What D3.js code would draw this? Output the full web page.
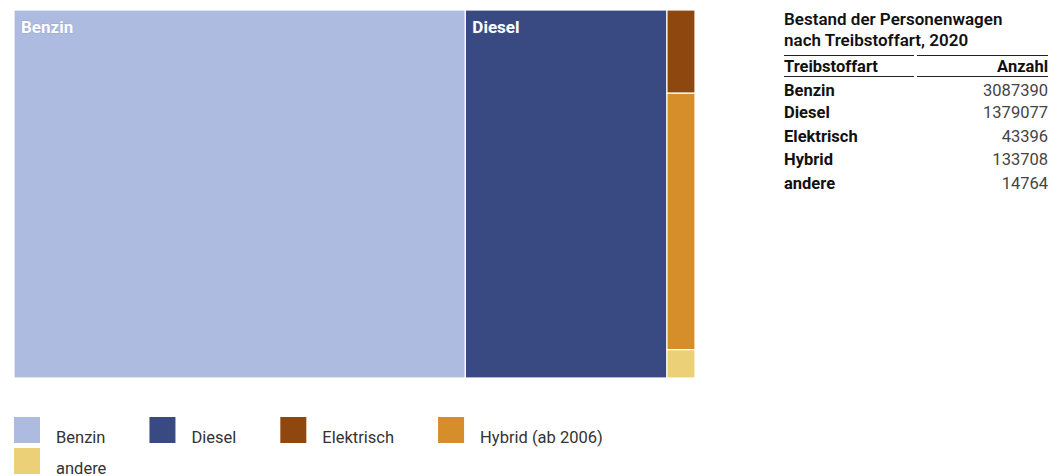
<!DOCTYPE html>
<html><head><meta charset="utf-8">
<script src="https://cdn.jsdelivr.net/npm/d3@7"></script>
<style>
html,body{margin:0;padding:0;background:#fff;}
svg{display:block;font-family:Roboto, "Noto Sans", sans-serif;}
</style></head>
<body><svg id="c" width="1064" height="476"></svg>
<script>
const categories = ["Benzin", "Diesel", "Elektrisch", "Hybrid", "andere"];
const legendLabels = ["Benzin", "Diesel", "Elektrisch", "Hybrid (ab 2006)", "andere"];
const values = [3087390, 1379077, 43396, 133708, 14764];
const colors = ["#adbbe0", "#394a82", "#8f4710", "#d68e2a", "#ecd078"];
const tableTitle = ["Bestand der Personenwagen", "nach Treibstoffart, 2020"];
const tableHeader = ["Treibstoffart", "Anzahl"];

const svg = d3.select("#c");
const W = {x0: 14, y0: 10, x1: 695, y1: 378};

const color = d3.scaleOrdinal().domain(categories).range(colors);

// tile: first two as full-height columns, remaining ones stacked in last column
function tile(parent, x0, y0, x1, y1) {
  const kids = parent.children;
  const lead = kids.slice(0, 2), rest = kids.slice(2);
  const restVal = d3.sum(rest, d => d.value);
  const groups = lead.map(k => ({value: k.value, children: [k]})).concat([{value: restVal, children: rest}]);
  const top = {value: parent.value, children: groups};
  d3.treemapDice(top, x0, y0, x1, y1);
  groups.forEach((g, i) => {
    if (i < 2) { const k = g.children[0]; k.x0 = g.x0; k.x1 = g.x1; k.y0 = g.y0; k.y1 = g.y1; }
    else d3.treemapSlice(g, g.x0, g.y0, g.x1, g.y1);
  });
}

const root = d3.hierarchy({children: categories.map((c, i) => ({name: c, value: values[i]}))})
  .sum(d => d.value || 0);
d3.treemap().tile(tile).size([W.x1 - W.x0, W.y1 - W.y0]).round(false)(root);

const g = svg.append("g").attr("transform", `translate(${W.x0},${W.y0})`);
const leaves = g.selectAll("g.leaf").data(root.leaves()).join("g").attr("class", "leaf");
leaves.append("rect")
  .attr("x", d => d.x0).attr("y", d => d.y0)
  .attr("width", d => d.x1 - d.x0).attr("height", d => d.y1 - d.y0)
  .attr("fill", d => color(d.data.name))
  .attr("stroke", "#fff").attr("stroke-width", 1.2);
leaves.filter(d => d.x1 - d.x0 > 60).append("text")
  .attr("x", d => d.x0 + 7).attr("y", d => d.y0 + 23)
  .attr("fill", "#fff").attr("font-size", 17).attr("font-weight", 700)
  .style("paint-order", "stroke").attr("stroke", "rgba(80,100,180,0.25)").attr("stroke-width", 1)
  .text(d => d.data.name);

// legend
const lg = svg.append("g");
let lx = 14, ly = 417;
const maxX = 695;
legendLabels.forEach((lab, i) => {
  const item = lg.append("g");
  item.append("rect").attr("width", 26).attr("height", 26).attr("fill", colors[i]);
  const t = item.append("text").attr("x", 42).attr("y", 26).attr("font-size", 16.5).attr("fill", "#333").text(lab);
  const w = 42 + t.node().getComputedTextLength();
  if (lx + w > maxX && lx > 14) { lx = 14; ly += 31; }
  item.attr("transform", `translate(${lx},${ly})`);
  lx += w + 44;
});

// table
const tx0 = 784, tx1 = 1048, tmid = 916;
const tg = svg.append("g");
tableTitle.forEach((t, i) => {
  tg.append("text").attr("x", tx0).attr("y", 25 + i * 21).attr("font-size", 17).attr("font-weight", 600).attr("fill", "#111").text(t);
});
[55.5, 76.5].forEach(y => {
  tg.append("line").attr("x1", tx0).attr("x2", tmid - 2).attr("y1", y).attr("y2", y).attr("stroke", "#222").attr("stroke-width", 1);
  tg.append("line").attr("x1", tmid + 1).attr("x2", tx1).attr("y1", y).attr("y2", y).attr("stroke", "#222").attr("stroke-width", 1);
});
tg.append("text").attr("x", tx0).attr("y", 72).attr("font-size", 16.5).attr("font-weight", 700).attr("fill", "#111").text(tableHeader[0]);
tg.append("text").attr("x", tx1).attr("y", 72).attr("text-anchor", "end").attr("font-size", 16.5).attr("font-weight", 700).attr("fill", "#111").text(tableHeader[1]);
const rowY = [96, 118, 142, 165, 189];
categories.forEach((c, i) => {
  tg.append("text").attr("x", tx0).attr("y", rowY[i]).attr("font-size", 16.5).attr("font-weight", 700).attr("fill", "#111").text(c);
  tg.append("text").attr("x", tx1).attr("y", rowY[i]).attr("text-anchor", "end").attr("font-size", 16.5).attr("fill", "#444").text(values[i]);
});
</script></body></html>
